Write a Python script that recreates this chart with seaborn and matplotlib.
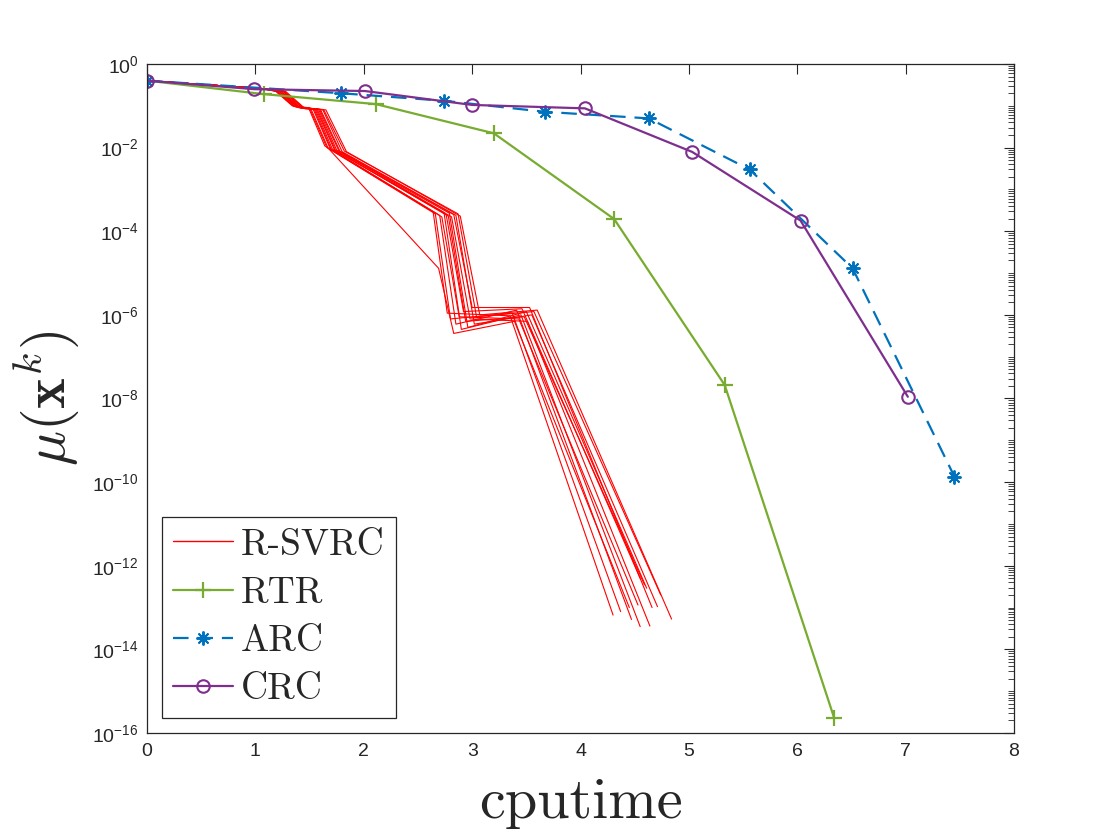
import numpy as np
import pandas as pd
import matplotlib
matplotlib.use('Agg')
import matplotlib.pyplot as plt
import seaborn as sns
from matplotlib.lines import Line2D
from matplotlib.ticker import LogLocator, NullFormatter, FixedLocator

# R-SVRC: one list per run (cputime, mu(x^k))
svrc_t = [
    [0, 1.05, 1.18, 1.34, 1.49, 1.64, 2.64, 2.77, 3.35, 4.30],
    [0, 1.05, 1.19, 1.35, 1.50, 1.66, 2.66, 2.80, 3.37, 4.37],
    [0, 1.05, 1.20, 1.36, 1.51, 1.67, 2.69, 2.83, 3.39, 4.45],
    [0, 1.05, 1.20, 1.37, 1.53, 1.69, 2.70, 2.85, 3.41, 4.47],
    [0, 1.05, 1.21, 1.38, 1.54, 1.70, 2.72, 2.88, 3.43, 4.53],
    [0, 1.05, 1.22, 1.39, 1.55, 1.71, 2.74, 2.90, 3.45, 4.55],
    [0, 1.05, 1.22, 1.40, 1.56, 1.73, 2.76, 2.92, 3.46, 4.55],
    [0, 1.05, 1.23, 1.40, 1.57, 1.74, 2.78, 2.94, 3.48, 4.59],
    [0, 1.05, 1.24, 1.41, 1.58, 1.75, 2.79, 2.96, 3.50, 4.61],
    [0, 1.05, 1.24, 1.42, 1.59, 1.77, 2.81, 2.98, 3.51, 4.64],
    [0, 1.05, 1.25, 1.43, 1.60, 1.78, 2.83, 3.00, 3.53, 4.66],
    [0, 1.05, 1.26, 1.44, 1.62, 1.80, 2.85, 3.02, 3.55, 4.71],
    [0, 1.05, 1.27, 1.45, 1.63, 1.82, 2.87, 3.04, 3.57, 4.74],
    [0, 1.05, 1.28, 1.46, 1.65, 1.84, 2.89, 3.07, 3.60, 4.84],
]
svrc_mu = [
    [0.40, 0.26, 0.23, 0.100, 0.090, 0.0110, 2.9e-4, 1.1e-6, 9.5e-7, 6.6e-14],
    [0.40, 0.26, 0.23, 0.098, 0.088, 0.0100, 2.6e-4, 8.0e-7, 1.1e-6, 8.0e-14],
    [0.40, 0.26, 0.22, 0.096, 0.087, 0.0098, 1.3e-5, 3.6e-7, 7.0e-7, 1.0e-13],
    [0.40, 0.26, 0.22, 0.095, 0.086, 0.0095, 2.4e-4, 6.0e-7, 1.3e-6, 5.2e-14],
    [0.40, 0.26, 0.23, 0.094, 0.085, 0.0090, 2.2e-4, 9.0e-7, 8.0e-7, 1.15e-13],
    [0.40, 0.26, 0.22, 0.092, 0.085, 0.0092, 2.8e-4, 4.5e-7, 1.0e-6, 3.5e-14],
    [0.40, 0.26, 0.22, 0.090, 0.084, 0.0088, 2.5e-4, 1.2e-6, 1.4e-6, 5.0e-13],
    [0.40, 0.26, 0.23, 0.092, 0.083, 0.0085, 2.3e-4, 7.0e-7, 9.0e-7, 3.5e-13],
    [0.40, 0.26, 0.22, 0.090, 0.084, 0.0087, 2.7e-4, 5.0e-7, 1.2e-6, 2.9e-13],
    [0.40, 0.26, 0.22, 0.088, 0.083, 0.0084, 2.2e-4, 8.0e-7, 7.0e-7, 3.6e-14],
    [0.40, 0.26, 0.23, 0.089, 0.082, 0.0082, 2.5e-4, 1.5e-6, 1.5e-6, 1.0e-13],
    [0.40, 0.26, 0.22, 0.087, 0.082, 0.0080, 2.4e-4, 6.0e-7, 1.0e-6, 1.05e-13],
    [0.40, 0.26, 0.22, 0.086, 0.081, 0.0083, 2.6e-4, 9.0e-7, 1.2e-6, 2.0e-13],
    [0.40, 0.26, 0.22, 0.085, 0.080, 0.0080, 2.3e-4, 1.0e-6, 1.3e-6, 5.3e-14],
]

rtr_t = [0, 1.08, 2.11, 3.20, 4.31, 5.33, 6.34]
rtr_mu = [0.40, 0.19, 0.11, 0.022, 1.96e-4, 2.1e-8, 2.3e-16]

arc_t = [0, 1.79, 2.74, 3.67, 4.63, 5.56, 6.51, 7.45]
arc_mu = [0.40, 0.20, 0.132, 0.072, 0.050, 3.0e-3, 1.3e-5, 1.35e-10]

crc_t = [0, 0.99, 2.01, 3.00, 4.04, 5.03, 6.03, 7.02]
crc_mu = [0.40, 0.25, 0.226, 0.105, 0.087, 7.9e-3, 1.8e-4, 1.1e-8]

c_red = '#FF0000'
c_rtr = '#77AC30'
c_arc = '#0072BD'
c_crc = '#7E2F8E'
c_axis = '#262626'

sns.set_theme(style='white')
plt.rcParams['font.family'] = ['Liberation Sans', 'DejaVu Sans']
plt.rcParams['mathtext.fontset'] = 'custom'
plt.rcParams['mathtext.rm'] = 'Liberation Sans'
plt.rcParams['mathtext.it'] = 'Liberation Sans:italic'
plt.rcParams['mathtext.bf'] = 'Liberation Sans:bold'

df_svrc = pd.DataFrame({
    'run': np.concatenate([[i] * len(t) for i, t in enumerate(svrc_t)]),
    't': np.concatenate(svrc_t),
    'mu': np.concatenate(svrc_mu),
})
df_rtr = pd.DataFrame({'t': rtr_t, 'mu': rtr_mu})
df_arc = pd.DataFrame({'t': arc_t, 'mu': arc_mu})
df_crc = pd.DataFrame({'t': crc_t, 'mu': crc_mu})

fig = plt.figure(figsize=(11.2, 8.4), dpi=100)
ax = fig.add_axes([0.1313, 0.1274, 0.7741, 0.7964])

svrc_style = dict(color=c_red, lw=0.8)
rtr_style = dict(color=c_rtr, lw=1.6, marker='+', markersize=11, mew=1.6, mec=c_rtr)
arc_style = dict(color=c_arc, lw=1.6, linestyle=(0, (7, 4)), marker=(8, 2, 0),
                 markersize=10, mew=1.4, mec=c_arc)
crc_style = dict(color=c_crc, lw=1.6, marker='o', markersize=9, mfc='none',
                 mec=c_crc, mew=1.5)

sns.lineplot(data=df_svrc, x='t', y='mu', units='run', estimator=None,
             sort=False, ax=ax, **svrc_style)
sns.lineplot(data=df_rtr, x='t', y='mu', ax=ax, **rtr_style)
sns.lineplot(data=df_arc, x='t', y='mu', ax=ax, **arc_style)
sns.lineplot(data=df_crc, x='t', y='mu', ax=ax, **crc_style)

ax.set_yscale('log')
ax.set_xlim(0, 8)
ax.set_ylim(1e-16, 1e0)
ax.xaxis.set_major_locator(FixedLocator(np.arange(0, 9, 1)))
ax.yaxis.set_major_locator(FixedLocator(10.0 ** np.arange(-16, 1, 2)))
ax.yaxis.set_minor_locator(LogLocator(base=10, subs=np.arange(1, 10), numticks=200))
ax.yaxis.set_minor_formatter(NullFormatter())
ax.tick_params(which='both', direction='in', top=True, right=True, colors=c_axis,
               labelcolor=c_axis)
ax.tick_params(which='major', length=7, width=0.8, labelsize=14)
ax.tick_params(which='minor', length=4, width=0.6)
ax.tick_params(axis='x', pad=7)
ax.tick_params(axis='y', pad=6)
for s in ax.spines.values():
    s.set_color(c_axis)
    s.set_linewidth(0.9)

ax.set_xlabel('cputime', fontfamily='cmr10', fontsize=42, color=c_axis, labelpad=13)
ax.set_ylabel(r'$\mu(\mathbf{x}^k)$', fontsize=42, color=c_axis, labelpad=8,
              math_fontfamily='cm')

handles = [
    Line2D([], [], color=c_red, lw=1.0),
    Line2D([], [], **rtr_style),
    Line2D([], [], **arc_style),
    Line2D([], [], **crc_style),
]
leg = ax.legend(handles, ['R-SVRC', 'RTR', 'ARC', 'CRC'], loc='lower left',
                bbox_to_anchor=(0.017, 0.023), borderaxespad=0,
                prop={'family': 'cmr10', 'size': 27}, frameon=True, fancybox=False,
                edgecolor=c_axis, framealpha=1, handlelength=1.6, handletextpad=0.2,
                labelspacing=0.4, borderpad=0.3)
leg.get_frame().set_linewidth(0.9)

fig.savefig('out.png', dpi=100)
